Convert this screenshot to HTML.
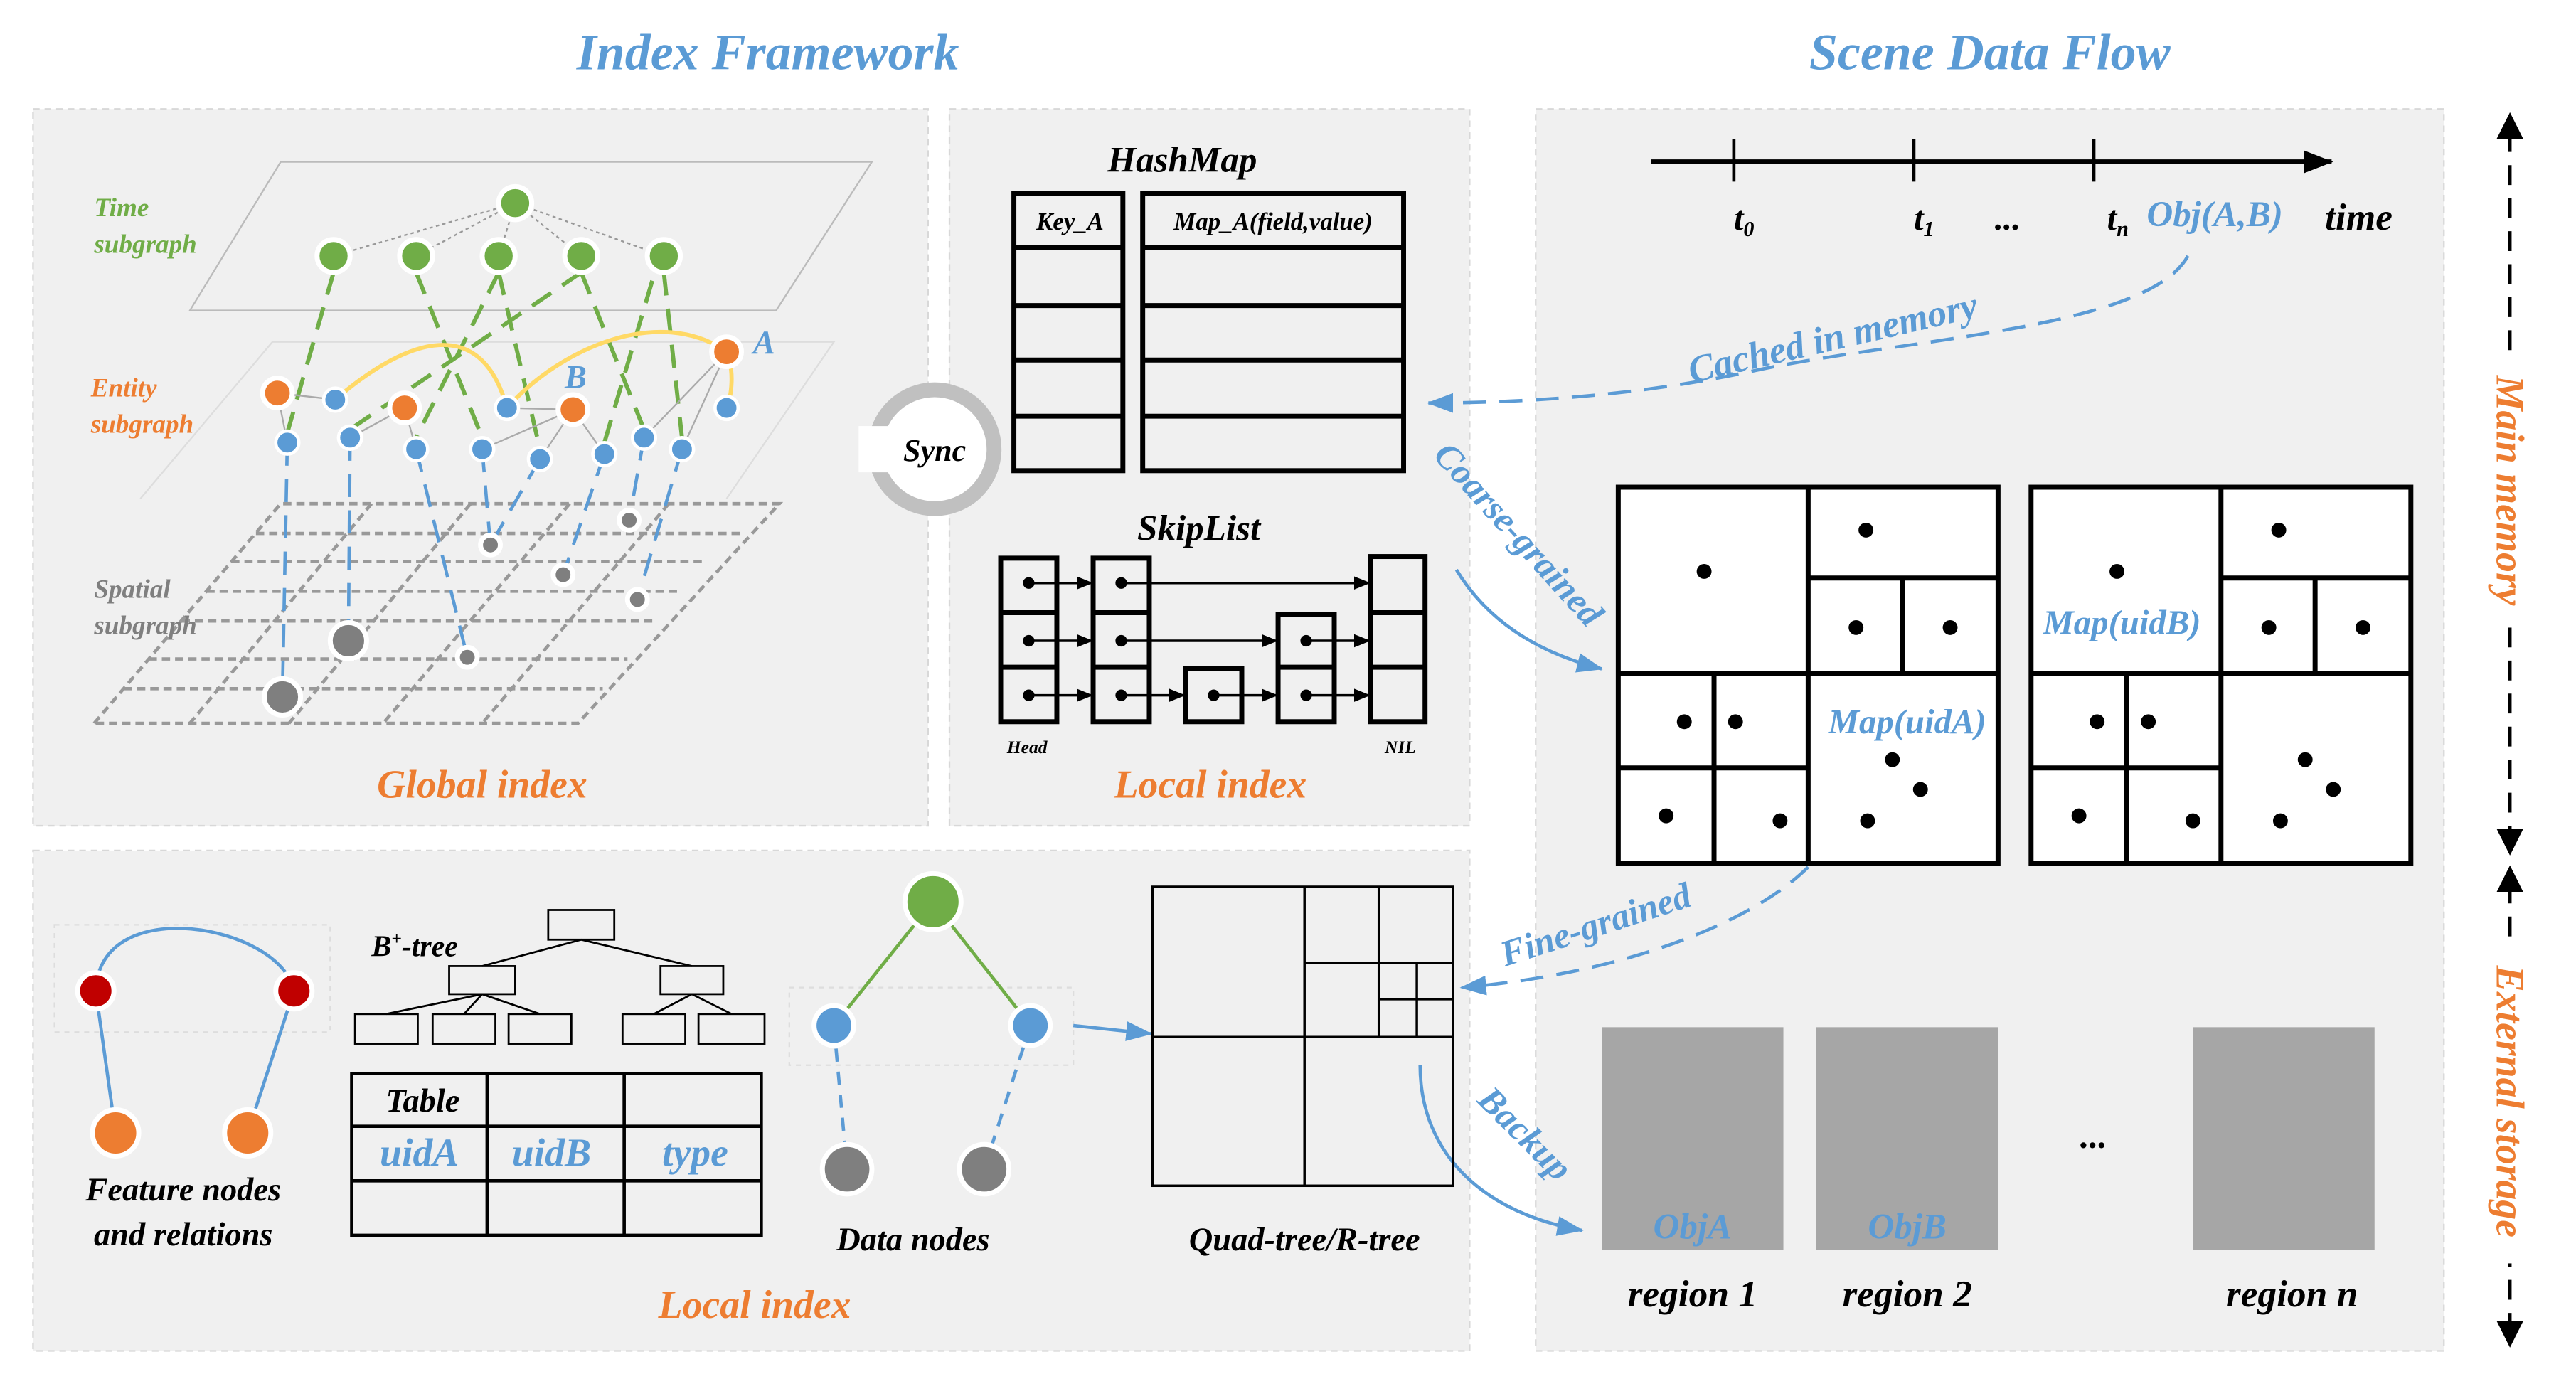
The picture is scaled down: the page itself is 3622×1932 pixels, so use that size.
<!DOCTYPE html>
<html><head><meta charset="utf-8"><style>
html,body{margin:0;padding:0;background:#fff;}
svg{display:block;}
text{font-family:"Liberation Serif",serif;font-style:italic;font-weight:bold;}
</style></head><body>
<svg width="3622" height="1932" viewBox="0 0 1560 832" preserveAspectRatio="none" xmlns="http://www.w3.org/2000/svg">
<defs>
<marker id="ab" markerWidth="10" markerHeight="8" refX="9" refY="4" orient="auto" markerUnits="userSpaceOnUse"><path d="M0,0 L10,4 L0,8 z" fill="#000"/></marker>
<marker id="au" markerWidth="16" markerHeight="12" refX="15" refY="6" orient="auto" markerUnits="userSpaceOnUse"><path d="M0,0 L16,6 L0,12 z" fill="#5b9bd5"/></marker>
<marker id="ak" markerWidth="18" markerHeight="14" refX="17" refY="7" orient="auto" markerUnits="userSpaceOnUse"><path d="M0,0 L18,7 L0,14 z" fill="#000"/></marker>
</defs>
<rect width="1560" height="832" fill="#fff"/>
<text x="465" y="42" font-size="31" fill="#5b9bd5" text-anchor="middle">Index Framework</text>
<text x="1205" y="42" font-size="31" fill="#5b9bd5" text-anchor="middle">Scene Data Flow</text>
<g fill="#f0f0f0" stroke="#d8d8d8" stroke-dasharray="4,3" stroke-width="1">
<rect x="20" y="66" width="542" height="434"/>
<rect x="575" y="66" width="315" height="434"/>
<rect x="20" y="515" width="870" height="303"/>
<rect x="930" y="66" width="550" height="752"/>
</g>
<path d="M115,188 L170,98 L528,98 L470,188 Z" fill="none" stroke="#bbb" stroke-width="1"/>
<path d="M85,302 L165,207 L505,207 L440,302" fill="none" stroke="#ddd" stroke-width="1"/>
<g stroke="#999" stroke-width="2" stroke-dasharray="5,3" fill="none">
<path d="M57,438 L170,305 L472,305 L350,438 Z"/>
<line x1="155" y1="323" x2="448" y2="323"/><line x1="140" y1="340" x2="425" y2="340"/><line x1="125" y1="358" x2="412" y2="358"/><line x1="110" y1="376" x2="398" y2="376"/><line x1="90" y1="399" x2="380" y2="399"/><line x1="75" y1="417" x2="365" y2="417"/>
<line x1="225" y1="305" x2="115" y2="438"/><line x1="285" y1="305" x2="175" y2="438"/><line x1="345" y1="305" x2="232" y2="438"/><line x1="405" y1="305" x2="292" y2="438"/>
</g>
<g stroke="#999" stroke-width="1" stroke-dasharray="2,2">
<line x1="312" y1="123" x2="202" y2="155"/><line x1="312" y1="123" x2="252" y2="155"/><line x1="312" y1="123" x2="302" y2="155"/><line x1="312" y1="123" x2="352" y2="155"/><line x1="312" y1="123" x2="402" y2="155"/>
</g>
<g stroke="#70ad47" stroke-width="2.5" stroke-dasharray="14,8">
<line x1="202" y1="165" x2="174" y2="262"/><line x1="252" y1="165" x2="292" y2="265"/><line x1="302" y1="165" x2="252" y2="265"/><line x1="302" y1="165" x2="327" y2="272"/><line x1="352" y1="165" x2="212" y2="260"/><line x1="352" y1="165" x2="390" y2="260"/><line x1="402" y1="165" x2="413" y2="265"/><line x1="395" y1="170" x2="366" y2="268"/>
</g>
<g stroke="#aaa" stroke-width="1">
<line x1="168" y1="238" x2="203" y2="242"/><line x1="168" y1="238" x2="174" y2="268"/><line x1="245" y1="247" x2="212" y2="265"/><line x1="245" y1="247" x2="252" y2="272"/><line x1="347" y1="248" x2="307" y2="247"/><line x1="347" y1="248" x2="292" y2="272"/><line x1="347" y1="248" x2="327" y2="278"/><line x1="347" y1="248" x2="366" y2="275"/><line x1="440" y1="213" x2="390" y2="265"/><line x1="440" y1="213" x2="413" y2="272"/>
</g>
<path d="M203,242 C240,210 290,185 307,247 C340,210 400,185 440,213 C445,225 443,240 440,247" fill="none" stroke="#ffd966" stroke-width="2.5"/>
<g stroke="#5b9bd5" stroke-width="2" stroke-dasharray="14,8">
<line x1="174" y1="268" x2="171" y2="422"/><line x1="212" y1="265" x2="211" y2="388"/><line x1="252" y1="272" x2="283" y2="398"/><line x1="292" y1="272" x2="297" y2="330"/><line x1="327" y1="278" x2="297" y2="330"/><line x1="366" y1="275" x2="341" y2="348"/><line x1="390" y1="265" x2="381" y2="315"/><line x1="413" y1="272" x2="386" y2="363"/>
</g>
<g stroke="#fff" stroke-width="3">
<g fill="#70ad47"><circle cx="312" cy="123" r="10"/><circle cx="202" cy="155" r="10"/><circle cx="252" cy="155" r="10"/><circle cx="302" cy="155" r="10"/><circle cx="352" cy="155" r="10"/><circle cx="402" cy="155" r="10"/></g>
<g fill="#ed7d31"><circle cx="168" cy="238" r="9"/><circle cx="245" cy="247" r="9"/><circle cx="347" cy="248" r="9"/><circle cx="440" cy="213" r="9"/></g>
<g fill="#5b9bd5" stroke-width="2"><circle cx="203" cy="242" r="7"/><circle cx="174" cy="268" r="7"/><circle cx="212" cy="265" r="7"/><circle cx="252" cy="272" r="7"/><circle cx="292" cy="272" r="7"/><circle cx="307" cy="247" r="7"/><circle cx="327" cy="278" r="7"/><circle cx="366" cy="275" r="7"/><circle cx="390" cy="265" r="7"/><circle cx="413" cy="272" r="7"/><circle cx="440" cy="247" r="7"/></g>
<g fill="#7f7f7f"><circle cx="171" cy="422" r="11"/><circle cx="211" cy="388" r="11"/><circle cx="297" cy="330" r="6"/><circle cx="341" cy="348" r="6"/><circle cx="381" cy="315" r="6"/><circle cx="386" cy="363" r="6"/><circle cx="283" cy="398" r="6"/></g>
</g>
<text x="57" y="131" font-size="16" fill="#70ad47">Time</text><text x="57" y="153" font-size="16" fill="#70ad47">subgraph</text>
<text x="55" y="240" font-size="16" fill="#ed7d31">Entity</text><text x="55" y="262" font-size="16" fill="#ed7d31">subgraph</text>
<text x="57" y="362" font-size="16" fill="#7f7f7f" font-weight="normal">Spatial</text><text x="57" y="384" font-size="16" fill="#7f7f7f" font-weight="normal">subgraph</text>
<text x="456" y="214" font-size="20" fill="#5b9bd5" font-weight="normal">A</text>
<text x="342" y="235" font-size="20" fill="#5b9bd5" font-weight="normal">B</text>
<text x="292" y="483" font-size="24" fill="#ed7d31" text-anchor="middle">Global index</text>
<circle cx="566" cy="272" r="36" fill="#fff" stroke="#c0c0c0" stroke-width="9"/>
<rect x="520" y="258" width="30" height="28" fill="#fff"/>
<text x="566" y="279" font-size="19" fill="#000" text-anchor="middle">Sync</text>
<text x="716" y="104" font-size="22" fill="#000" text-anchor="middle">HashMap</text>
<g fill="none" stroke="#000" stroke-width="3">
<rect x="614" y="117" width="66" height="168"/><rect x="692" y="117" width="158" height="168"/>
<line x1="614" y1="150" x2="680" y2="150"/><line x1="614" y1="185" x2="680" y2="185"/><line x1="614" y1="218" x2="680" y2="218"/><line x1="614" y1="252" x2="680" y2="252"/>
<line x1="692" y1="150" x2="850" y2="150"/><line x1="692" y1="185" x2="850" y2="185"/><line x1="692" y1="218" x2="850" y2="218"/><line x1="692" y1="252" x2="850" y2="252"/>
</g>
<text x="648" y="139" font-size="15" text-anchor="middle">Key_A</text>
<text x="771" y="139" font-size="15" text-anchor="middle">Map_A(field,value)</text>
<text x="726" y="327" font-size="22" text-anchor="middle">SkipList</text>
<g fill="none" stroke="#000" stroke-width="3">
<rect x="606" y="338" width="34" height="99"/><line x1="606" y1="371" x2="640" y2="371"/><line x1="606" y1="404" x2="640" y2="404"/>
<rect x="662" y="338" width="34" height="99"/><line x1="662" y1="371" x2="696" y2="371"/><line x1="662" y1="404" x2="696" y2="404"/>
<rect x="718" y="405" width="34" height="32"/>
<rect x="774" y="372" width="34" height="65"/><line x1="774" y1="404" x2="808" y2="404"/>
<rect x="830" y="337" width="33" height="100"/><line x1="830" y1="371" x2="863" y2="371"/><line x1="830" y1="404" x2="863" y2="404"/>
</g>
<g fill="#000"><circle cx="623" cy="353" r="3.5"/><circle cx="623" cy="388" r="3.5"/><circle cx="623" cy="421" r="3.5"/><circle cx="679" cy="353" r="3.5"/><circle cx="679" cy="388" r="3.5"/><circle cx="679" cy="421" r="3.5"/><circle cx="735" cy="421" r="3.5"/><circle cx="791" cy="388" r="3.5"/><circle cx="791" cy="421" r="3.5"/></g>
<g stroke="#000" stroke-width="1.5" marker-end="url(#ab)">
<line x1="623" y1="353" x2="661" y2="353"/><line x1="623" y1="388" x2="661" y2="388"/><line x1="623" y1="421" x2="661" y2="421"/>
<line x1="679" y1="353" x2="829" y2="353"/><line x1="679" y1="388" x2="773" y2="388"/><line x1="679" y1="421" x2="717" y2="421"/>
<line x1="735" y1="421" x2="773" y2="421"/><line x1="791" y1="388" x2="829" y2="388"/><line x1="791" y1="421" x2="829" y2="421"/>
</g>
<text x="622" y="456" font-size="11" text-anchor="middle">Head</text>
<text x="848" y="456" font-size="11" text-anchor="middle">NIL</text>
<text x="733" y="483" font-size="24" fill="#ed7d31" text-anchor="middle">Local index</text>
<line x1="1000" y1="98" x2="1412" y2="98" stroke="#000" stroke-width="3" marker-end="url(#ak)"/>
<g stroke="#000" stroke-width="2"><line x1="1050" y1="84" x2="1050" y2="110"/><line x1="1159" y1="84" x2="1159" y2="110"/><line x1="1268" y1="84" x2="1268" y2="110"/></g>
<text x="1050" y="139" font-size="21">t<tspan font-size="13" dy="4">0</tspan></text>
<text x="1159" y="139" font-size="21">t<tspan font-size="13" dy="4">1</tspan></text>
<text x="1208" y="139" font-size="21">...</text>
<text x="1276" y="139" font-size="21">t<tspan font-size="13" dy="4">n</tspan></text>
<text x="1300" y="137" font-size="22" fill="#5b9bd5" font-weight="normal">Obj(A,B)</text>
<text x="1408" y="139" font-size="23">time</text>
<path d="M1325,155 C1300,200 1150,205 1060,225 C990,240 920,244 865,244" fill="none" stroke="#5b9bd5" stroke-width="2" stroke-dasharray="14,8" marker-end="url(#au)"/>
<text x="1110" y="212" font-size="23" fill="#5b9bd5" text-anchor="middle" transform="rotate(-13 1110 205)">Cached in memory</text>
<g fill="#fff" stroke="#000" stroke-width="3">
<g>
<rect x="980" y="295" width="230" height="228"/>
<line x1="1095" y1="295" x2="1095" y2="523"/><line x1="980" y1="408" x2="1210" y2="408"/><line x1="1095" y1="350" x2="1210" y2="350"/><line x1="1152" y1="350" x2="1152" y2="408"/><line x1="1038" y1="408" x2="1038" y2="523"/><line x1="980" y1="465" x2="1095" y2="465"/>
</g>
<g>
<rect x="1230" y="295" width="230" height="228"/>
<line x1="1345" y1="295" x2="1345" y2="523"/><line x1="1230" y1="408" x2="1460" y2="408"/><line x1="1345" y1="350" x2="1460" y2="350"/><line x1="1402" y1="350" x2="1402" y2="408"/><line x1="1288" y1="408" x2="1288" y2="523"/><line x1="1230" y1="465" x2="1345" y2="465"/>
</g>
</g>
<g fill="#000">
<circle cx="1032" cy="346" r="4.5"/><circle cx="1130" cy="321" r="4.5"/><circle cx="1124" cy="380" r="4.5"/><circle cx="1181" cy="380" r="4.5"/><circle cx="1020" cy="437" r="4.5"/><circle cx="1051" cy="437" r="4.5"/><circle cx="1009" cy="494" r="4.5"/><circle cx="1078" cy="497" r="4.5"/><circle cx="1146" cy="460" r="4.5"/><circle cx="1163" cy="478" r="4.5"/><circle cx="1131" cy="497" r="4.5"/>
<circle cx="1282" cy="346" r="4.5"/><circle cx="1380" cy="321" r="4.5"/><circle cx="1374" cy="380" r="4.5"/><circle cx="1431" cy="380" r="4.5"/><circle cx="1270" cy="437" r="4.5"/><circle cx="1301" cy="437" r="4.5"/><circle cx="1259" cy="494" r="4.5"/><circle cx="1328" cy="497" r="4.5"/><circle cx="1396" cy="460" r="4.5"/><circle cx="1413" cy="478" r="4.5"/><circle cx="1381" cy="497" r="4.5"/>
</g>
<text x="1155" y="444" font-size="21" fill="#5b9bd5" font-weight="normal" text-anchor="middle">Map(uidA)</text>
<text x="1285" y="384" font-size="21" fill="#5b9bd5" font-weight="normal" text-anchor="middle">Map(uidB)</text>
<path d="M882,345 C900,375 930,395 970,405" fill="none" stroke="#5b9bd5" stroke-width="2" marker-end="url(#au)"/>
<text x="918" y="330" font-size="22" fill="#5b9bd5" text-anchor="middle" transform="rotate(48 918 325)">Coarse-grained</text>
<path d="M1095,525 C1060,560 980,590 885,598" fill="none" stroke="#5b9bd5" stroke-width="2" stroke-dasharray="14,8" marker-end="url(#au)"/>
<text x="967" y="567" font-size="22" fill="#5b9bd5" text-anchor="middle" transform="rotate(-18 967 562)">Fine-grained</text>
<path d="M860,645 C860,700 900,735 958,745" fill="none" stroke="#5b9bd5" stroke-width="2" marker-end="url(#au)"/>
<text x="922" y="693" font-size="22" fill="#5b9bd5" text-anchor="middle" transform="rotate(45 922 688)">Backup</text>
<g fill="#a6a6a6"><rect x="970" y="622" width="110" height="135"/><rect x="1100" y="622" width="110" height="135"/><rect x="1328" y="622" width="110" height="135"/></g>
<text x="1025" y="750" font-size="22" fill="#5b9bd5" font-weight="normal" text-anchor="middle">ObjA</text>
<text x="1155" y="750" font-size="22" fill="#5b9bd5" font-weight="normal" text-anchor="middle">ObjB</text>
<text x="1268" y="695" font-size="22" text-anchor="middle">...</text>
<text x="1025" y="791" font-size="23" text-anchor="middle">region 1</text>
<text x="1155" y="791" font-size="23" text-anchor="middle">region 2</text>
<text x="1388" y="791" font-size="23" text-anchor="middle">region n</text>
<g stroke="#000" stroke-width="2" stroke-dasharray="12,8" fill="none">
<line x1="1520" y1="80" x2="1520" y2="508"/><line x1="1520" y1="535" x2="1520" y2="805"/>
</g>
<path d="M1520,68 L1512,84 L1528,84 Z M1520,518 L1512,502 L1528,502 Z M1520,524 L1512,540 L1528,540 Z M1520,816 L1512,800 L1528,800 Z" fill="#000"/>
<rect x="1505" y="215" width="30" height="165" fill="#fff"/>
<text x="1520" y="297" font-size="24" fill="#ed7d31" text-anchor="middle" transform="rotate(90 1520 297)" dy="8">Main memory</text>
<rect x="1505" y="570" width="30" height="195" fill="#fff"/>
<text x="1520" y="667" font-size="24" fill="#ed7d31" text-anchor="middle" transform="rotate(90 1520 667)" dy="8">External storage</text>
<rect x="33" y="560" width="167" height="65" fill="none" stroke="#ddd" stroke-dasharray="3,3"/>
<path d="M58,600 C60,540 170,560 178,600" fill="none" stroke="#5b9bd5" stroke-width="2"/>
<g stroke="#5b9bd5" stroke-width="2"><line x1="58" y1="600" x2="70" y2="686"/><line x1="178" y1="600" x2="150" y2="686"/></g>
<g stroke="#fff" stroke-width="3"><circle cx="58" cy="600" r="11" fill="#c00000"/><circle cx="178" cy="600" r="11" fill="#c00000"/><circle cx="70" cy="686" r="14" fill="#ed7d31"/><circle cx="150" cy="686" r="14" fill="#ed7d31"/></g>
<text x="111" y="727" font-size="20" text-anchor="middle">Feature nodes</text>
<text x="111" y="754" font-size="20" text-anchor="middle">and relations</text>
<text x="225" y="579" font-size="18" font-weight="normal">B<tspan font-size="11" dy="-7">+</tspan><tspan dy="7">-tree</tspan></text>
<g fill="none" stroke="#000" stroke-width="1.2">
<rect x="332" y="551" width="40" height="18"/><rect x="272" y="585" width="40" height="17"/><rect x="400" y="585" width="38" height="17"/>
<rect x="215" y="614" width="38" height="18"/><rect x="262" y="614" width="38" height="18"/><rect x="308" y="614" width="38" height="18"/><rect x="377" y="614" width="38" height="18"/><rect x="423" y="614" width="40" height="18"/>
<path d="M352,569 L292,585 M352,569 L419,585 M292,602 L234,614 M292,602 L281,614 M292,602 L327,614 M419,602 L396,614 M419,602 L443,614"/>
</g>
<g fill="none" stroke="#000" stroke-width="2">
<rect x="213" y="650" width="248" height="98"/><line x1="295" y1="650" x2="295" y2="748"/><line x1="378" y1="650" x2="378" y2="748"/><line x1="213" y1="682" x2="461" y2="682"/><line x1="213" y1="715" x2="461" y2="715"/>
</g>
<text x="256" y="673" font-size="20" font-weight="normal" text-anchor="middle">Table</text>
<text x="254" y="706" font-size="24" fill="#5b9bd5" font-weight="normal" text-anchor="middle">uidA</text>
<text x="334" y="706" font-size="24" fill="#5b9bd5" font-weight="normal" text-anchor="middle">uidB</text>
<text x="421" y="706" font-size="24" fill="#5b9bd5" font-weight="normal" text-anchor="middle">type</text>
<rect x="478" y="598" width="172" height="47" fill="none" stroke="#ddd" stroke-dasharray="3,3"/>
<g stroke="#70ad47" stroke-width="2"><line x1="565" y1="546" x2="505" y2="621"/><line x1="565" y1="546" x2="624" y2="621"/></g>
<g stroke="#5b9bd5" stroke-width="2" stroke-dasharray="8,6"><line x1="505" y1="621" x2="513" y2="708"/><line x1="624" y1="621" x2="596" y2="708"/></g>
<g stroke="#fff" stroke-width="3"><circle cx="565" cy="546" r="17" fill="#70ad47"/><circle cx="505" cy="621" r="12" fill="#5b9bd5"/><circle cx="624" cy="621" r="12" fill="#5b9bd5"/><circle cx="513" cy="708" r="15" fill="#7f7f7f"/><circle cx="596" cy="708" r="15" fill="#7f7f7f"/></g>
<text x="553" y="757" font-size="20" text-anchor="middle">Data nodes</text>
<line x1="650" y1="621" x2="697" y2="626" stroke="#5b9bd5" stroke-width="2" marker-end="url(#au)"/>
<g fill="none" stroke="#000" stroke-width="1.5">
<rect x="698" y="537" width="182" height="181"/><line x1="790" y1="537" x2="790" y2="718"/><line x1="698" y1="628" x2="880" y2="628"/><line x1="835" y1="537" x2="835" y2="628"/><line x1="790" y1="583" x2="880" y2="583"/><line x1="858" y1="583" x2="858" y2="628"/><line x1="835" y1="605" x2="880" y2="605"/>
</g>
<text x="790" y="757" font-size="20" text-anchor="middle">Quad-tree/R-tree</text>
<text x="457" y="798" font-size="24" fill="#ed7d31" text-anchor="middle">Local index</text>
</svg>
</body></html>
